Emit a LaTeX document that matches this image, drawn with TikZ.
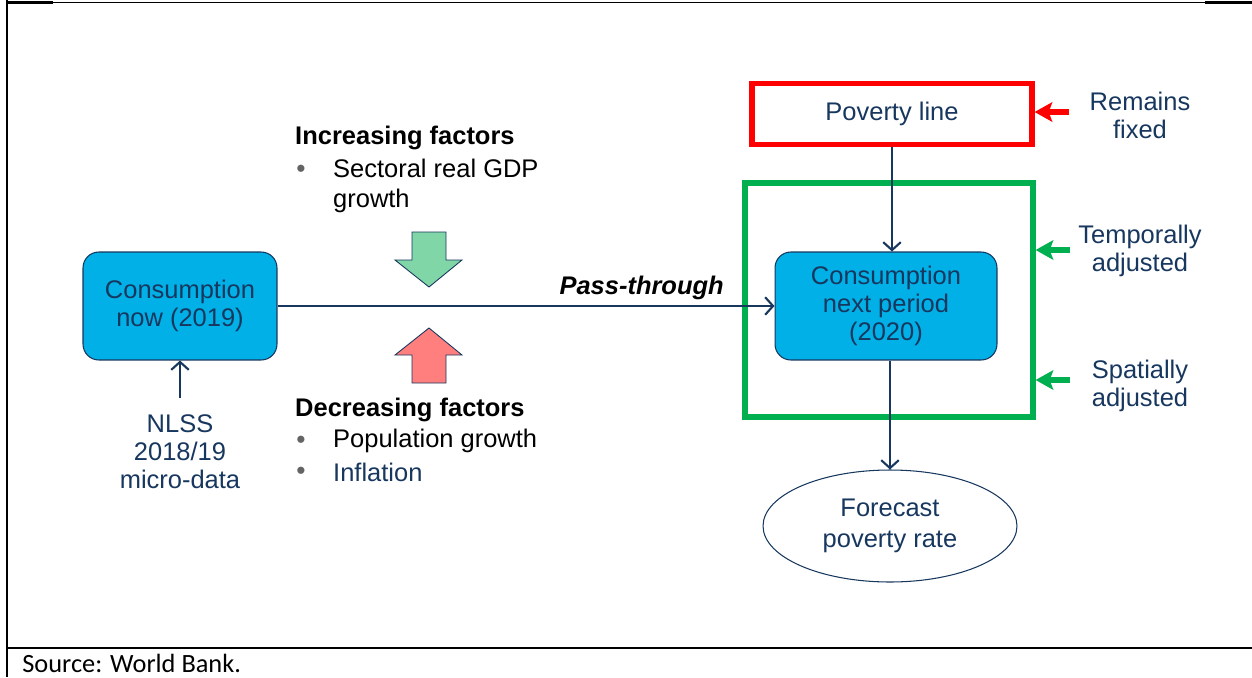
\documentclass[tikz,border=0pt]{standalone}
\usepackage{fontspec}
\setmainfont{Liberation Sans}
\newfontfamily\srcfont{Carlito}
\usetikzlibrary{arrows.meta,shapes.geometric}

\definecolor{navy}{RGB}{23,55,94}
\definecolor{cyanbox}{RGB}{0,176,230}
\definecolor{adjgreen}{RGB}{0,176,80}
\definecolor{upgreen}{RGB}{128,214,166}
\definecolor{downred}{RGB}{255,127,127}
\definecolor{bulletgray}{RGB}{100,100,100}

\tikzset{
  box/.style={draw=navy,line width=0.6pt,fill=cyanbox,rounded corners=9pt,align=center},
  link/.style={draw=navy,line width=1.2pt,-{Straight Barb[length=4.5pt,width=10pt]}},
  fat/.style={line width=3pt,-{Stealth[length=10pt,width=11pt,inset=2pt]}},
  blt/.style={text=bulletgray,font=\fontsize{15}{16}\selectfont,inner sep=0pt}
}

\begin{document}
\begin{tikzpicture}[x=0.02cm,y=-0.02cm,every node/.style={font=\fontsize{14.5}{16}\selectfont,text=navy}]
\useasboundingbox (0,0) rectangle (1252,677);

% frame
\draw[line width=1.6pt] (7,0) -- (7,677);
\draw[line width=0.6pt] (7,2.5) -- (1252,2.5);
\draw[line width=1.6pt] (7,2.5) -- (53,2.5) (1205,2.5) -- (1252,2.5);
\draw[line width=1.6pt] (7,648) -- (1252,648);
\node[anchor=west,text=black,font=\srcfont\fontsize{15}{17}\selectfont,inner sep=0pt] (src) at (22,663) {Source: World Bank.};

% boxes
\node[box,minimum width=3.88cm,minimum height=2.16cm] (now) at (180,306) {Consumption\\now (2019)};
\node[box,minimum width=4.44cm,minimum height=2.16cm] (next) at (886,306) {Consumption\\next period\\(2020)};
\node[draw=red,line width=3pt,minimum width=5.6cm,minimum height=1.22cm] (pov) at (892,114) {Poverty line};
\node[draw=adjgreen,line width=3pt,minimum width=5.76cm,minimum height=4.68cm] (adj) at (889,300) {};
\node[draw=navy,line width=0.6pt,ellipse,minimum width=5.08cm,minimum height=2.24cm,align=center,
  font=\fontsize{14.5}{17.5}\selectfont] (fc) at (890,526) {Forecast\\poverty rate};
\node[align=center] (nlss) at (180,452) {NLSS\\2018/19\\micro-data};

% side notes
\node[align=center] (fix) at (1140,115) {Remains\\fixed};
\node[align=center] (tmp) at (1140,251) {Temporally\\adjusted};
\node[align=center] (spa) at (1140,386) {Spatially\\adjusted};

% factors
\node[anchor=west,text=black,font=\bfseries\fontsize{14.5}{16}\selectfont] (inc) at (289,138) {Increasing factors};
\node[blt] (b1) at (301,171) {\textbullet};
\node[anchor=west,align=left,text=black,font=\fontsize{14.5}{17}\selectfont] (gdp) at (327,186) {Sectoral real GDP\\growth};
\node[anchor=west,text=black,font=\bfseries\fontsize{14.5}{16}\selectfont] (dec) at (289,410) {Decreasing factors};
\node[blt] (b2) at (301,442) {\textbullet};
\node[anchor=west,text=black] (pop) at (327,441) {Population growth};
\node[blt] (b3) at (301,473) {\textbullet};
\node[anchor=west] (infl) at (327,472) {Inflation};

\fill[upgreen,draw=navy,line width=0.5pt] (412,232) -- (446,232) -- (446,260) -- (462,260) -- (429,287) -- (395,260) -- (412,260) -- cycle;
\fill[downred,draw=navy,line width=0.5pt] (429,328) -- (462,355) -- (446,355) -- (446,383) -- (412,383) -- (412,355) -- (395,355) -- cycle;

% connectors
\draw[link] (now.east) -- (next.west) node[pos=0.9,anchor=south east,inner sep=0pt,yshift=3pt,text=black,font=\bfseries\itshape\fontsize{14.5}{16}\selectfont] (pass) {Pass-through};
\draw[link] ([yshift=6pt]nlss.north) -- (now.south);
\draw[link] (pov.south) -- (pov.south |- next.north);
\draw[link] (fc.north |- next.south) -- (fc.north);

\coordinate (f) at (1069,112);
\coordinate (t) at (1070,250);
\coordinate (s) at (1070,380);
\draw[fat,red] (f) -- (f -| pov.east);
\draw[fat,adjgreen] (t) -- (t -| adj.east);
\draw[fat,adjgreen] (s) -- (s -| adj.east);

\end{tikzpicture}
\end{document}
